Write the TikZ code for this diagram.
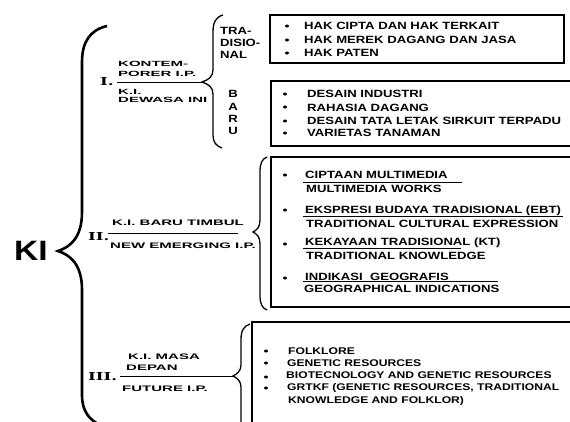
\documentclass[tikz,border=0pt]{standalone}
\usepackage{fontspec}
\usepackage{graphicx}
\newfontfamily\entfont{Liberation Sans Bold}
\newfontfamily\romfont{DejaVu Serif Bold}
\newcommand{\E}[1]{\scalebox{1.25}[1]{#1}}
\newcommand{\LA}[1]{\scalebox{2.0}[1]{#1}}
\newcommand{\LB}[1]{\scalebox{1.875}[1]{#1}}
\newcommand{\R}[1]{\scalebox{1.5}[1]{#1}}
\tikzset{
  ent/.style={font=\entfont\fontsize{10.5}{12}\selectfont, anchor=west, inner sep=0pt, text height=7.5pt, text depth=0pt},
  entc/.style={ent, anchor=center},
  ent3/.style={font=\entfont\fontsize{9.7}{11}\selectfont, anchor=west, inner sep=0pt, text height=6.95pt, text depth=0pt},
  labA/.style={font=\entfont\fontsize{7.5}{9}\selectfont, anchor=west, inner sep=0pt, text height=5.4pt, text depth=0pt},
  labB/.style={font=\entfont\fontsize{8}{9}\selectfont, anchor=west, inner sep=0pt, text height=5.7pt, text depth=0pt},
  rom/.style={font=\romfont\fontsize{11}{12}\selectfont, anchor=west, inner sep=0pt, text height=8pt, text depth=0pt},
  box/.style={draw, line width=1.6pt, inner sep=0pt},
  brace/.style={line width=1.3pt},
  rule/.style={line width=0.9pt},
}
\newcommand{\bul}[2]{\fill (#1,#2) ellipse (2 and 1.5);}
\begin{document}
\begin{tikzpicture}[x=1pt,y=-1pt]
\useasboundingbox (0,0) rectangle (570,421);
\clip (0,0) rectangle (570,421);
\fill[white] (0,0) rectangle (570,421);

% KI and big brace
\node[font=\entfont\fontsize{28}{30}\selectfont, inner sep=0pt, text height=20pt, text depth=0pt] (ki) at (31,250) {\scalebox{1.2}[1]{KI}};
\draw[line width=2.6pt] (107,26) .. controls (90,30) and (82,42) .. (82,62) -- (82,212)
  .. controls (82,238) and (70,247) .. (58,251) .. controls (70,255) and (82,264) .. (82,290)
  -- (82,395) .. controls (82,412) and (90,420) .. (100,425);

% ---------- I ----------
\node[rom] (r1) at (100,81) {\R{I.}};
\coordinate (l1a) at (117,82);
\coordinate (t1) at (202,82);
\draw[rule] (l1a) -- (t1);
\node[labA] (k1a) at (118,63.5) {\LA{KONTEM-}};
\node[labA] (k1b) at (118,74) {\LA{PORER I.P.}};
\node[labA] (k1c) at (118,91.5) {\LA{K.I.}};
\node[labA] (k1d) at (118,100) {\LA{DEWASA INI}};
\draw[brace] (223,15) .. controls (216,17) and (213,22) .. (213,32) -- (213,70)
  .. controls (213,77) and (208,80) .. (t1) .. controls (208,84) and (213,87) .. (213,94)
  -- (213,135) .. controls (213,142) and (216,146) .. (222,148);

\node[ent] (tra1) at (220,31) {\E{TRA-}};
\node[ent] (tra2) at (220,43) {\E{DISIO-}};
\node[ent] (tra3) at (220,54.5) {\E{NAL}};
\node[entc] (baru1) at (233,94) {\E{B}};
\node[entc] (baru2) at (233,107) {\E{A}};
\node[entc] (baru3) at (233,119) {\E{R}};
\node[entc] (baru4) at (233,131) {\E{U}};

\node[box, minimum width=294pt, minimum height=48pt] (b1) at (417,39) {};
\bul{287}{26}\bul{287}{40}\bul{287}{53}
\node[ent] (e11) at (304,26) {\E{HAK CIPTA DAN HAK TERKAIT}};
\node[ent] (e12) at (304,39.5) {\E{HAK MEREK DAGANG DAN JASA}};
\node[ent] (e13) at (304,52.5) {\E{HAK PATEN}};

\node[box, minimum width=329pt, minimum height=65pt] (b2) at (435.5,113.5) {};
\bul{285}{94}\bul{285}{107}\bul{285}{121}\bul{285}{133}
\node[ent] (e21) at (307,93.5) {\E{DESAIN INDUSTRI}};
\node[ent] (e22) at (307,107.5) {\E{RAHASIA DAGANG}};
\node[ent] (e23) at (307,121) {\E{DESAIN TATA LETAK SIRKUIT TERPADU}};
\node[ent] (e24) at (307,133) {\E{VARIETAS TANAMAN}};

% ---------- II ----------
\node[rom] (r2) at (88,236) {\R{II.}};
\coordinate (l2a) at (108,233);
\coordinate (l2b) at (238,233);
\draw[rule] (l2a) -- (l2b);
\node[labB] (k2a) at (112,223) {\LB{K.I. BARU TIMBUL}};
\node[labB] (k2b) at (110,246) {\LB{NEW EMERGING I.P.}};
\coordinate (t2) at (253,232);
\draw[brace] (267,157) .. controls (262,159) and (260,163) .. (260,172) -- (260,220)
  .. controls (260,227) and (257,230) .. (t2) .. controls (257,234) and (260,237) .. (260,244)
  -- (260,295) .. controls (260,304) and (262,308) .. (267,310);

\node[box, minimum width=329pt, minimum height=150pt] (b3) at (435.5,232) {};
\bul{285}{175}\bul{285}{210}\bul{285}{244}\bul{285}{278}
\node[ent] (e31) at (305,175) {\E{CIPTAAN MULTIMEDIA}};
\draw[rule] (303,182) -- (462,182);
\node[ent] (e31b) at (306,189) {\E{MULTIMEDIA WORKS}};
\node[ent] (e32) at (305,210) {\E{EKSPRESI BUDAYA TRADISIONAL (EBT)}};
\draw[rule] (303,216.5) -- (563,216.5);
\node[ent] (e32b) at (306,223.5) {\E{TRADITIONAL CULTURAL EXPRESSION}};
\node[ent] (e33) at (305,242) {\E{KEKAYAAN TRADISIONAL (KT)}};
\draw[rule] (303,248) -- (461,248);
\node[ent] (e33b) at (306,256) {\E{TRADITIONAL KNOWLEDGE}};
\node[ent] (e34) at (305,276.5) {\E{INDIKASI\ \ GEOGRAFIS}};
\draw[rule] (303,281.5) -- (498,281.5);
\node[ent] (e34b) at (304,289) {\E{GEOGRAPHICAL INDICATIONS}};

% ---------- III ----------
\node[rom] (r3) at (88,376) {\R{III.}};
\coordinate (l3a) at (120,376);
\coordinate (t3) at (233,376);
\draw[rule] (l3a) -- (t3);
\node[labB] (k3a) at (128,357) {\LB{K.I. MASA}};
\node[labB] (k3b) at (126,368) {\LB{DEPAN}};
\node[labB] (k3c) at (122,389) {\LB{FUTURE I.P.}};
\draw[brace] (250,324) .. controls (244,326) and (241,330) .. (241,340) -- (241,365)
  .. controls (241,371) and (237,374) .. (t3) .. controls (237,378) and (241,381) .. (241,387)
  -- (241,425);

\node[box, minimum width=348pt, minimum height=110pt] (b4) at (426,377) {};
\bul{266}{351}\bul{266}{363}\bul{266}{377}\bul{266}{388}
\node[ent3] (e41) at (288,351) {\E{FOLKLORE}};
\node[ent3] (e42) at (287,363) {\E{GENETIC RESOURCES}};
\node[ent3] (e43) at (286,375.5) {\E{BIOTECNOLOGY AND GENETIC RESOURCES}};
\node[ent3] (e44) at (287,387.5) {\E{GRTKF (GENETIC RESOURCES, TRADITIONAL}};
\node[ent3] (e44b) at (288,400) {\E{KNOWLEDGE AND FOLKLOR)}};
\end{tikzpicture}
\end{document}
